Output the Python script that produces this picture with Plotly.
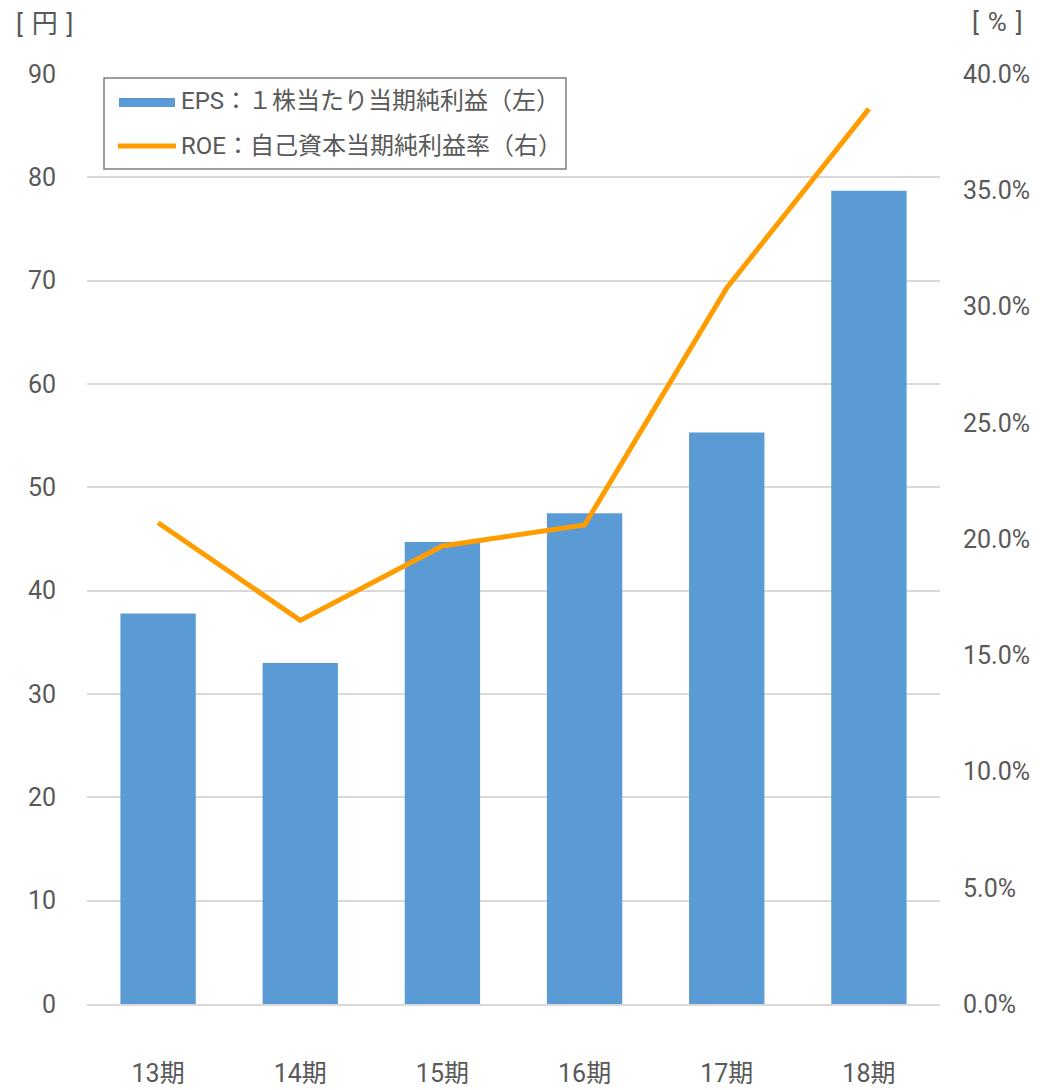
import plotly.graph_objects as go

categories = ["13期", "14期", "15期", "16期", "17期", "18期"]
eps = [37.8, 33.0, 44.7, 47.5, 55.3, 78.7]
roe = [20.7, 16.5, 19.7, 20.6, 30.8, 38.5]
left_ticks = [0, 10, 20, 30, 40, 50, 60, 70, 80, 90]
right_ticks = [0, 5, 10, 15, 20, 25, 30, 35, 40]
eps_name = "EPS：１株当たり当期純利益（左）"
roe_name = "ROE：自己資本当期純利益率（右）"
left_unit = "[\u2004円\u2004]"
right_unit = "[\u2004%\u2004]"

BLUE = "#5b9bd5"
ORANGE = "#ff9c00"
TXT = "#595959"
GRID = "#d9d9d9"
FONT = "Roboto, Noto Sans CJK JP, sans-serif"

fig = go.Figure()
fig.add_trace(go.Bar(x=categories, y=eps, name=eps_name, marker_color=BLUE,
                     marker_line_width=0, yaxis="y"))
fig.add_trace(go.Scatter(x=categories, y=roe, name=roe_name, mode="lines",
                         line=dict(color=ORANGE, width=5), yaxis="y2"))

# page body has an 8px margin; plot area in absolute page px: x 87..940, y 74..1004
OFF = 8
W, H = 1040 - OFF, 1090 - OFF
PX0, PX1, PY0, PY1 = 87, 940, 74, 1004
L, R, T, B = PX0 - OFF, W - (PX1 - OFF), PY0 - OFF, H - (PY1 - OFF)
pw, ph = PX1 - PX0, PY1 - PY0

def px(x):
    return (x - PX0) / pw

def py(y):
    return (PY1 - y) / ph

fig.update_layout(
    width=W, height=H,
    margin=dict(l=L, r=R, t=T, b=B, autoexpand=False),
    paper_bgcolor="white", plot_bgcolor="white",
    font=dict(family=FONT, color=TXT, size=25),
    showlegend=False,
    bargap=0.47,
    xaxis=dict(type="category", showgrid=False, showline=True, linecolor=GRID,
               linewidth=2, ticks="", tickfont=dict(size=25),
               ticklabelstandoff=46, automargin=False),
    yaxis=dict(range=[0, 90], tickvals=left_ticks, showgrid=True, gridcolor=GRID,
               gridwidth=1.5, zeroline=False, showline=False, ticks="",
               tickfont=dict(size=25), ticklabelstandoff=30, automargin=False),
    yaxis2=dict(range=[0, 40], tickvals=right_ticks,
                ticktext=[f"{v:.1f}%" for v in right_ticks],
                overlaying="y", side="right", showgrid=False, zeroline=False,
                showline=False, ticks="", tickfont=dict(size=25),
                ticklabelstandoff=22, automargin=False),
)

# axis unit labels
fig.add_annotation(xref="paper", yref="paper", x=px(45), y=py(24), text=left_unit,
                   showarrow=False, font=dict(size=26, color=TXT), xanchor="center", yanchor="middle")
fig.add_annotation(xref="paper", yref="paper", x=px(997), y=py(22), text=right_unit,
                   showarrow=False, font=dict(size=26, color=TXT), xanchor="center", yanchor="middle")

# custom legend
fig.add_shape(type="rect", xref="paper", yref="paper", x0=px(104), x1=px(566),
              y0=py(169), y1=py(78), line=dict(color="#7f7f7f", width=1.5),
              fillcolor="white", layer="above")
fig.add_shape(type="rect", xref="paper", yref="paper", x0=px(119), x1=px(175),
              y0=py(107), y1=py(98), line=dict(width=0), fillcolor=BLUE, layer="above")
fig.add_shape(type="line", xref="paper", yref="paper", x0=px(118), x1=px(176),
              y0=py(146), y1=py(146), line=dict(color=ORANGE, width=5), layer="above")
fig.add_annotation(xref="paper", yref="paper", x=px(179), y=py(101), text=eps_name,
                   showarrow=False, font=dict(size=24, color=TXT), xanchor="left", yanchor="middle")
fig.add_annotation(xref="paper", yref="paper", x=px(179), y=py(146), text=roe_name,
                   showarrow=False, font=dict(size=24, color=TXT), xanchor="left", yanchor="middle")

fig.write_html("out.html")
